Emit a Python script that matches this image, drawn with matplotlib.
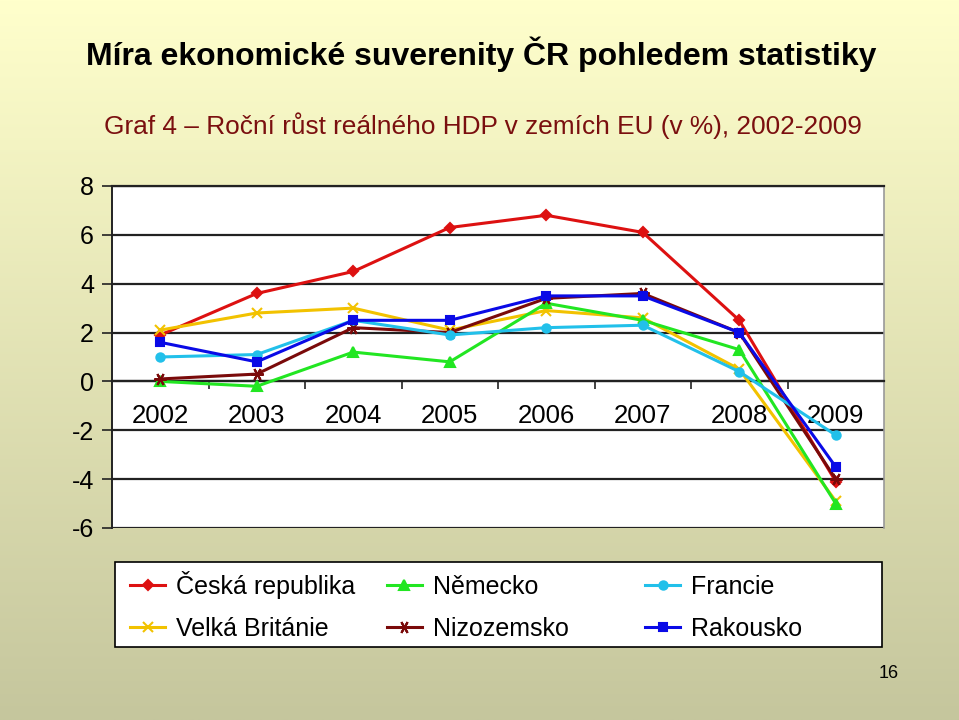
import numpy as np
import matplotlib
matplotlib.use("Agg")
import matplotlib.pyplot as plt
from matplotlib import font_manager as fm
from matplotlib.patches import Rectangle

years = ["2002", "2003", "2004", "2005", "2006", "2007", "2008", "2009"]
cz = [1.9, 3.6, 4.5, 6.3, 6.8, 6.1, 2.5, -4.1]
de = [0.0, -0.2, 1.2, 0.8, 3.2, 2.5, 1.3, -5.0]
fr = [1.0, 1.1, 2.5, 1.9, 2.2, 2.3, 0.4, -2.2]
uk = [2.1, 2.8, 3.0, 2.1, 2.9, 2.6, 0.5, -4.9]
nl = [0.1, 0.3, 2.2, 2.0, 3.4, 3.6, 2.0, -4.0]
at = [1.6, 0.8, 2.5, 2.5, 3.5, 3.5, 2.0, -3.5]
yticks = [-6, -4, -2, 0, 2, 4, 6, 8]

names = {f.name for f in fm.fontManager.ttflist}
base = "Liberation Sans" if "Liberation Sans" in names else "DejaVu Sans"
plt.rcParams["font.family"] = [base, "DejaVu Sans"]

fig = plt.figure(figsize=(9.59, 7.2), dpi=100)

# background gradient
bg = fig.add_axes([0, 0, 1, 1], zorder=-10)
top = np.array([255, 255, 204]) / 255
bot = np.array([197, 198, 157]) / 255
t = np.linspace(0, 1, 256)[:, None]
grad = top * (1 - t) + bot * t
img = np.repeat(grad[:, None, :], 2, axis=1)
bg.imshow(img, aspect="auto", extent=[0, 1, 0, 1], origin="upper")
bg.set_axis_off()

ax = fig.add_axes([0.1168, 0.2667, 0.805, 0.475])
ax.set_facecolor("white")
x = np.arange(len(years))

series = [
    ("Česká republika", cz, "#DD1111", "D", 5),
    ("Velká Británie", uk, "#F2C200", "x", 7),
    ("Německo", de, "#22E622", "^", 7),
    ("Nizozemsko", nl, "#7A0A0A", (6, 2, 90), 9),
    ("Francie", fr, "#22C0EA", "o", 6),
    ("Rakousko", at, "#0A0AE6", "s", 6),
]
handles = []
for name, vals, col, mk, ms in series:
    h, = ax.plot(x, vals, color=col, lw=2.2, marker=mk, markersize=ms,
                 markeredgewidth=1.5, label=name, zorder=3)
    handles.append(h)

ax.set_xlim(-0.5, 7.5)
ax.set_ylim(-6, 8)
ax.set_yticks(yticks)
ax.set_yticklabels([str(v) for v in yticks], fontsize=18)
ax.yaxis.grid(True, color="#222222", lw=1.6)
ax.set_axisbelow(True)
ax.tick_params(axis="y", length=7, width=1.2, color="#222222", pad=6)

ax.spines["bottom"].set_position(("data", 0))
ax.spines["bottom"].set_color("#222222")
ax.spines["bottom"].set_linewidth(1.6)
ax.spines["left"].set_color("#222222")
ax.spines["left"].set_linewidth(1.4)
ax.spines["top"].set_color("#222222")
ax.spines["top"].set_linewidth(1.6)
ax.spines["right"].set_color("#999999")
ax.spines["right"].set_linewidth(1.2)

ax.set_xticks(np.arange(0.5, 7.5, 1.0))
ax.set_xticklabels([])
ax.tick_params(axis="x", which="major", direction="out", length=6, width=1.2, color="#222222")
ax.set_xticks(x, minor=True)
ax.set_xticklabels(years, minor=True, fontsize=18.5)
ax.tick_params(axis="x", which="minor", length=0, pad=16)

# legend: frame + three equal-width columns
fig.patches.append(Rectangle((0.1199, 0.1014), 0.7998, 0.118, transform=fig.transFigure,
                             facecolor="white", edgecolor="black", lw=1.2, zorder=1))
col_x = [0.1356, 0.4035, 0.6726]
col_top = [0.2069, 0.2013, 0.2013]
for i, cx in enumerate(col_x):
    hs = handles[2 * i:2 * i + 2]
    lg = fig.legend(handles=hs, labels=[h.get_label() for h in hs],
                    loc="upper left", bbox_to_anchor=(cx, col_top[i]),
                    fontsize=18, frameon=False, handlelength=1.4, handletextpad=0.45,
                    borderaxespad=0, borderpad=0, labelspacing=0.7)
    lg.set_zorder(2)

fig.text(0.502, 0.924, "Míra ekonomické suverenity ČR pohledem statistiky",
         ha="center", va="center", fontsize=23, fontweight="bold", color="black")
fig.text(0.504, 0.826, "Graf 4 – Roční růst reálného HDP v zemích EU (v %), 2002-2009",
         ha="center", va="center", fontsize=18.9, color="#7A0F0F")
fig.text(0.927, 0.065, "16", ha="center", va="center", fontsize=13, color="black")

fig.savefig("out.png", dpi=100)
